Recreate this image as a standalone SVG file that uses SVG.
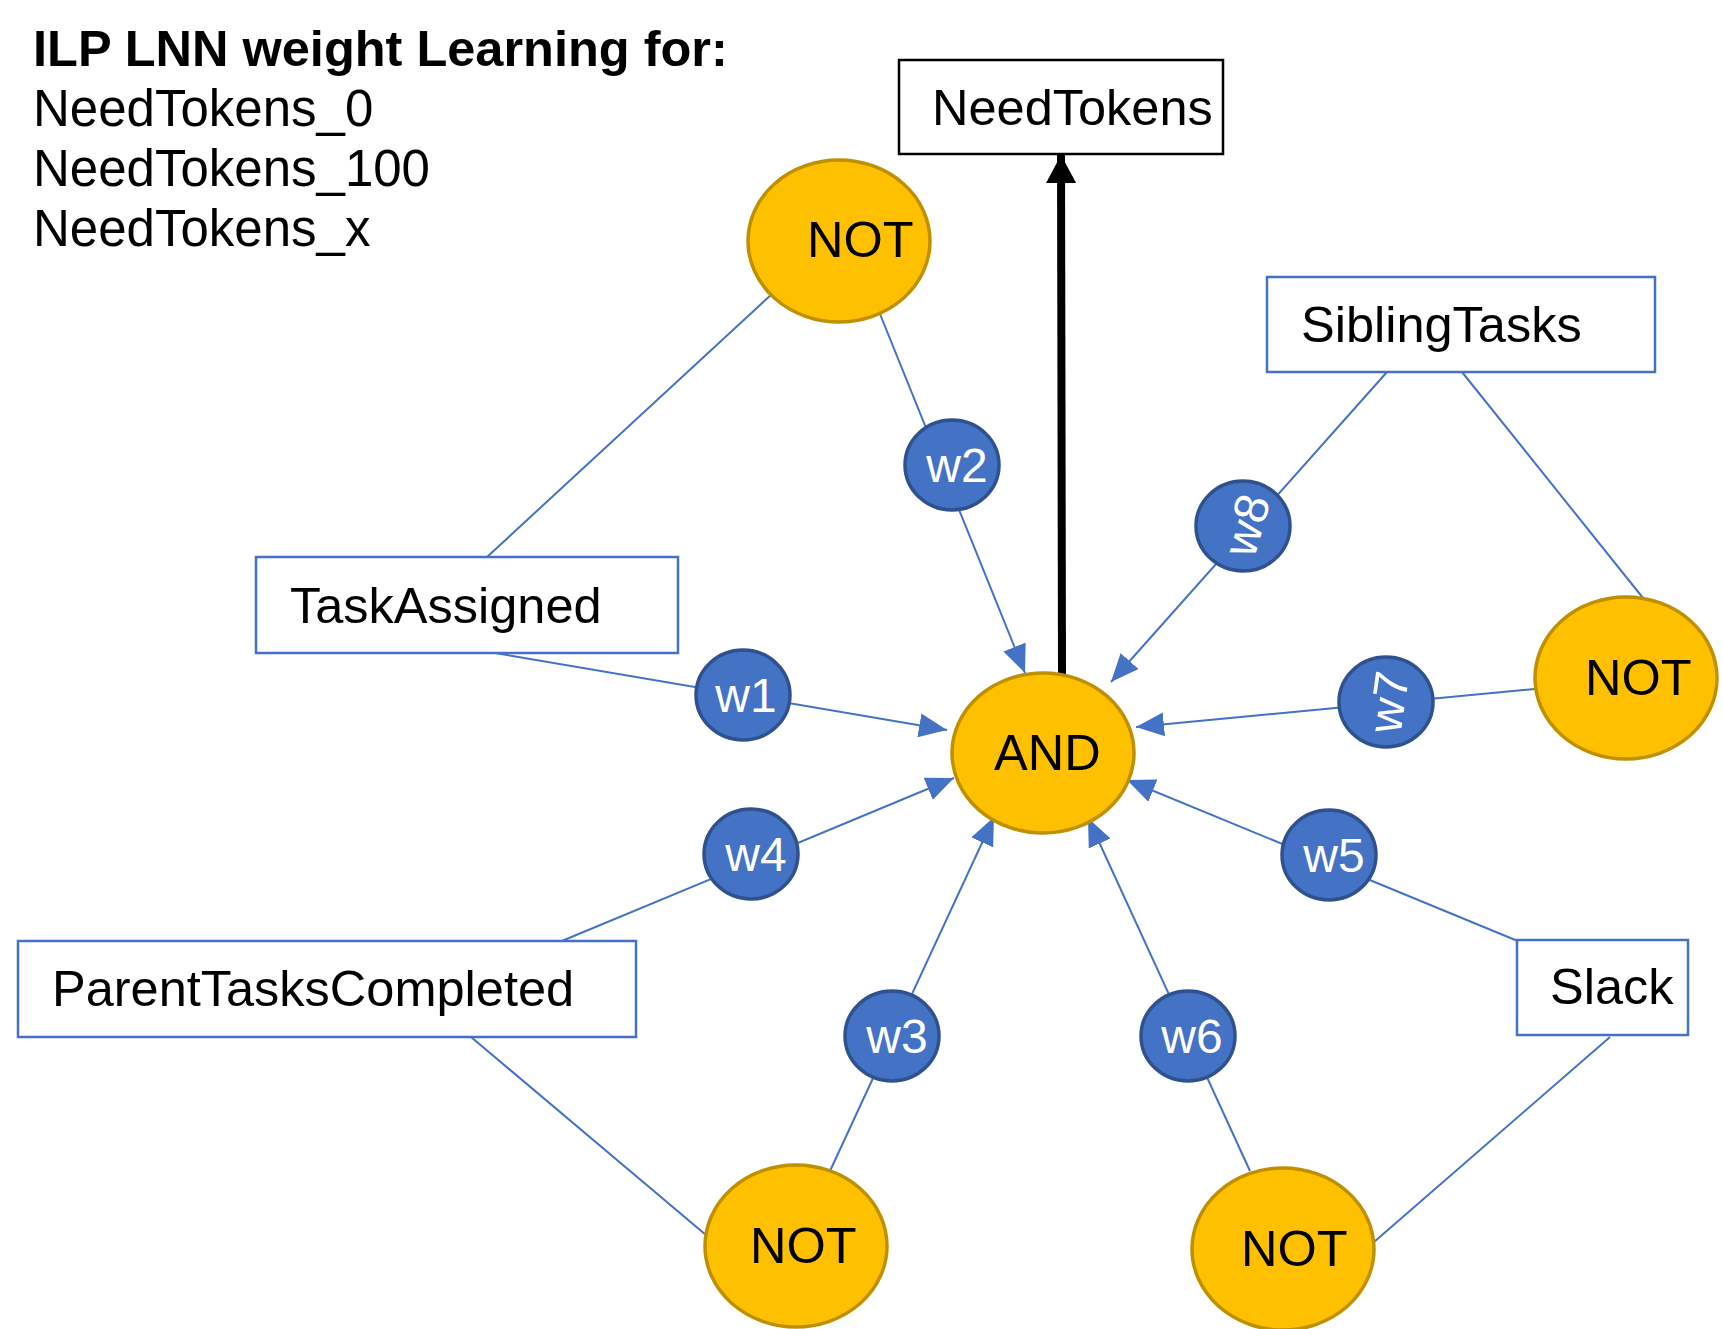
<svg xmlns="http://www.w3.org/2000/svg" width="1722" height="1329" viewBox="0 0 1722 1329">
<style>
text { font-family: "Liberation Sans", Arial, sans-serif; font-size: 50.5px; fill: #000; }
.title { font-weight: bold; font-size: 50.5px; }
.sub { font-size: 51px; }
.box { fill: #fff; stroke: #4472C4; stroke-width: 2.5; }
.boxk { fill: #fff; stroke: #000; stroke-width: 2.5; }
.gate { fill: #FFC000; stroke: #BF9000; stroke-width: 3.5; }
.wt { fill: #4472C4; stroke: #2F528F; stroke-width: 3.5; }
.wtxt { fill: #fff; font-size: 48px; text-anchor: middle; }
.edge { fill: none; stroke: #4472C4; stroke-width: 2; }
.arr { fill: none; stroke: #4472C4; stroke-width: 2; marker-end: url(#ab); }
</style>
<defs>
<marker id="ab" markerUnits="userSpaceOnUse" viewBox="0 0 28 24" markerWidth="28" markerHeight="24" refX="28" refY="12" orient="auto">
<path d="M0,0 L28,12 L0,24 z" fill="#4472C4"/>
</marker>
<marker id="ak" markerUnits="userSpaceOnUse" viewBox="0 0 28 30" markerWidth="28" markerHeight="30" refX="28" refY="15" orient="auto">
<path d="M0,0 L28,15 L0,30 z" fill="#000"/>
</marker>
</defs>
<rect width="1722" height="1329" fill="#fff"/>

<g id="title">
<text class="title" x="33" y="66">ILP LNN weight Learning for:</text>
<text class="sub" x="33" y="126">NeedTokens_0</text>
<text class="sub" x="33" y="186">NeedTokens_100</text>
<text class="sub" x="33" y="246">NeedTokens_x</text>
</g>

<g id="connectors">
<path class="edge" d="M772,294 L487,557"/>
<path class="arr" d="M489,652 L947,730"/>
<path class="arr" d="M880,314 L1025,673"/>
<path class="arr" d="M1387,372 L1111,682"/>
<path class="edge" d="M1462,372 L1643,598"/>
<path class="arr" d="M1535,689 L1136,727"/>
<path class="arr" d="M1525,944 L1127,780"/>
<path class="edge" d="M1610,1037 L1374,1242"/>
<path class="arr" d="M1250,1171 L1088,818"/>
<path class="arr" d="M830,1171 L994,817"/>
<path class="edge" d="M471,1037 L706,1235"/>
<path class="arr" d="M557,943 L954,778"/>
<path d="M1062,674 L1061,155" fill="none" stroke="#000" stroke-width="8" marker-end="url(#ak)"/>
</g>

<g id="NeedTokens">
<rect class="boxk" x="899" y="60" width="324" height="94"/>
<text x="932" y="125">NeedTokens</text>
</g>

<g id="TaskAssigned">
<rect class="box" x="256" y="557" width="422" height="96"/>
<text x="290" y="623">TaskAssigned</text>
</g>

<g id="SiblingTasks">
<rect class="box" x="1267" y="277" width="388" height="95"/>
<text x="1301" y="342">SiblingTasks</text>
</g>

<g id="ParentTasksCompleted">
<rect class="box" x="18" y="941" width="618" height="96"/>
<text x="52" y="1006">ParentTasksCompleted</text>
</g>

<g id="Slack">
<rect class="box" x="1517" y="940" width="171" height="95"/>
<text x="1550" y="1004">Slack</text>
</g>

<g id="NOT_top">
<ellipse class="gate" cx="839" cy="241" rx="91" ry="81"/>
<text x="807" y="257">NOT</text>
</g>

<g id="NOT_right">
<ellipse class="gate" cx="1626" cy="678" rx="91" ry="81"/>
<text x="1585" y="695">NOT</text>
</g>

<g id="NOT_bottom_left">
<ellipse class="gate" cx="796" cy="1246" rx="91" ry="81"/>
<text x="750" y="1263">NOT</text>
</g>

<g id="NOT_bottom_right">
<ellipse class="gate" cx="1283" cy="1249" rx="91" ry="81"/>
<text x="1241" y="1266">NOT</text>
</g>

<g id="AND">
<ellipse class="gate" cx="1043" cy="753" rx="91" ry="80"/>
<text x="994" y="770">AND</text>
</g>

<g id="w1"><ellipse class="wt" cx="743" cy="695" rx="47" ry="45"/><text class="wtxt" x="746" y="712">w1</text></g>
<g id="w2"><ellipse class="wt" cx="952" cy="465" rx="47" ry="45"/><text class="wtxt" x="957" y="482">w2</text></g>
<g id="w3"><ellipse class="wt" cx="892" cy="1036" rx="47" ry="45"/><text class="wtxt" x="897" y="1053">w3</text></g>
<g id="w4"><ellipse class="wt" cx="751" cy="854" rx="47" ry="45"/><text class="wtxt" x="756" y="871">w4</text></g>
<g id="w5"><ellipse class="wt" cx="1329" cy="855" rx="47" ry="45"/><text class="wtxt" x="1334" y="872">w5</text></g>
<g id="w6"><ellipse class="wt" cx="1188" cy="1036" rx="47" ry="45"/><text class="wtxt" x="1192" y="1053">w6</text></g>
<g id="w7"><ellipse class="wt" cx="1386" cy="702" rx="47" ry="45"/><text class="wtxt" x="1388" y="719" transform="rotate(-82 1388 702)">w7</text></g>
<g id="w8"><ellipse class="wt" cx="1243" cy="526" rx="47" ry="45"/><text class="wtxt" x="1246" y="542" transform="rotate(-74 1246 525)">w8</text></g>
</svg>
